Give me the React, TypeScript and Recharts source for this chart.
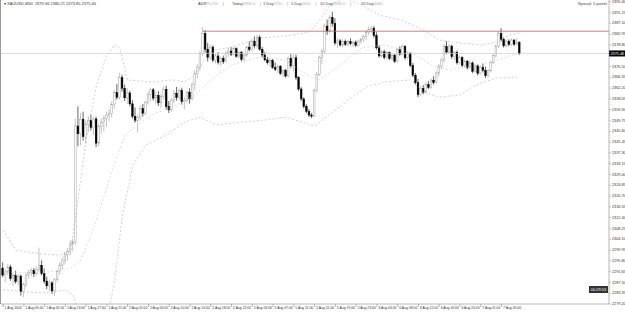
import { Bar, ComposedChart, Line, ReferenceLine, XAxis, YAxis } from 'recharts';

// XAUUSD M30 candles: [open, high, low, close]
const candles: [number, number, number, number][] = [
  [2293.0, 2295.2, 2289.5, 2290.3], [2290.3, 2292.4, 2287.6, 2291.5], [2291.5, 2294.6, 2290.2, 2293.4], [2293.4, 2294.3, 2288.1, 2289.0],
  [2289.0, 2291.3, 2286.2, 2290.1], [2290.1, 2292.0, 2287.0, 2287.8], [2287.8, 2290.8, 2286.4, 2289.9], [2289.9, 2290.6, 2282.4, 2283.9],
  [2283.9, 2287.5, 2281.8, 2286.6], [2286.6, 2291.2, 2285.7, 2290.4], [2290.4, 2292.3, 2288.9, 2291.2], [2291.2, 2293.1, 2289.8, 2292.0],
  [2292.0, 2293.0, 2289.6, 2290.8], [2290.8, 2293.4, 2290.0, 2292.5], [2292.5, 2300.8, 2291.6, 2294.1], [2294.1, 2296.0, 2290.2, 2290.9],
  [2290.9, 2292.8, 2287.1, 2288.0], [2288.0, 2289.7, 2284.9, 2286.2], [2286.2, 2288.4, 2284.1, 2287.3], [2287.3, 2288.0, 2283.0, 2284.2],
  [2284.2, 2289.2, 2282.3, 2288.5], [2288.5, 2292.4, 2287.4, 2291.6], [2291.6, 2295.3, 2290.5, 2294.2], [2294.2, 2297.1, 2292.6, 2295.8],
  [2295.8, 2299.2, 2294.3, 2298.1], [2298.1, 2300.7, 2296.0, 2299.4], [2299.4, 2303.6, 2297.9, 2302.3], [2302.3, 2304.2, 2299.5, 2303.0],
  [2303.0, 2350.5, 2301.8, 2347.6], [2347.6, 2355.2, 2339.8, 2344.6], [2344.6, 2352.6, 2340.3, 2350.2], [2350.2, 2353.1, 2342.0, 2343.5],
  [2343.5, 2349.6, 2340.8, 2348.3], [2348.3, 2351.4, 2345.2, 2349.6], [2349.6, 2352.0, 2345.8, 2347.0], [2347.0, 2351.0, 2344.1, 2350.3],
  [2350.3, 2351.2, 2339.5, 2341.0], [2341.0, 2348.4, 2339.7, 2347.5], [2347.5, 2350.4, 2344.6, 2348.9], [2348.9, 2351.6, 2345.5, 2350.5],
  [2350.5, 2353.2, 2347.2, 2351.8], [2351.8, 2354.1, 2349.3, 2352.4], [2352.4, 2357.0, 2350.8, 2355.9], [2355.9, 2361.3, 2354.2, 2360.4],
  [2360.4, 2363.8, 2357.7, 2358.6], [2358.6, 2368.0, 2357.9, 2366.2], [2366.2, 2367.3, 2360.8, 2362.1], [2362.1, 2363.5, 2357.2, 2358.4],
  [2358.4, 2362.2, 2356.0, 2360.3], [2360.3, 2361.1, 2355.2, 2356.1], [2356.1, 2357.5, 2350.4, 2351.3], [2351.3, 2354.7, 2348.8, 2349.8],
  [2349.8, 2352.0, 2345.3, 2350.9], [2350.9, 2355.5, 2349.6, 2354.3], [2354.3, 2356.1, 2351.2, 2352.5], [2352.5, 2357.4, 2351.7, 2356.6],
  [2356.6, 2360.9, 2355.8, 2359.7], [2359.7, 2362.4, 2357.1, 2361.5], [2361.5, 2362.2, 2357.4, 2358.3], [2358.3, 2360.7, 2355.9, 2359.4],
  [2359.4, 2361.0, 2355.3, 2356.5], [2356.5, 2359.8, 2354.6, 2358.9], [2358.9, 2362.8, 2357.8, 2361.7], [2361.7, 2363.1, 2353.9, 2355.0],
  [2355.0, 2357.2, 2352.6, 2353.8], [2353.8, 2358.3, 2353.0, 2357.6], [2357.6, 2361.4, 2356.4, 2360.2], [2360.2, 2362.6, 2357.3, 2358.5],
  [2358.5, 2362.0, 2357.6, 2361.3], [2361.3, 2362.3, 2355.8, 2356.9], [2356.9, 2358.6, 2353.9, 2357.5], [2357.5, 2361.1, 2356.5, 2360.6],
  [2360.6, 2362.1, 2356.2, 2358.0], [2358.0, 2364.4, 2357.3, 2363.6], [2363.6, 2369.0, 2361.5, 2367.8], [2367.8, 2371.3, 2366.0, 2370.2],
  [2370.2, 2376.5, 2368.8, 2375.4], [2375.4, 2385.6, 2374.6, 2383.2], [2383.2, 2384.4, 2375.8, 2377.1], [2377.1, 2379.5, 2372.4, 2374.0],
  [2374.0, 2378.8, 2373.1, 2377.9], [2377.9, 2378.6, 2372.0, 2372.9], [2372.9, 2375.3, 2371.6, 2374.5], [2374.5, 2376.0, 2371.2, 2372.1],
  [2372.1, 2374.2, 2370.6, 2373.6], [2373.6, 2374.6, 2371.4, 2372.3], [2372.3, 2376.3, 2371.9, 2375.7], [2375.7, 2377.6, 2374.2, 2376.4],
  [2376.4, 2377.9, 2374.5, 2375.1], [2375.1, 2378.1, 2374.6, 2377.3], [2377.3, 2377.8, 2373.8, 2374.4], [2374.4, 2376.2, 2373.6, 2375.9],
  [2375.9, 2376.4, 2372.5, 2373.2], [2373.2, 2375.4, 2372.3, 2374.8], [2374.8, 2378.5, 2374.1, 2377.9], [2377.9, 2380.1, 2376.2, 2376.9],
  [2376.9, 2381.0, 2376.4, 2380.2], [2380.2, 2382.0, 2377.4, 2378.4], [2378.4, 2382.6, 2377.3, 2381.6], [2381.6, 2382.5, 2376.5, 2377.0],
  [2377.0, 2378.0, 2374.0, 2374.9], [2374.9, 2376.1, 2372.4, 2373.0], [2373.0, 2374.1, 2371.2, 2371.9], [2371.9, 2373.6, 2370.2, 2372.8],
  [2372.8, 2373.3, 2369.5, 2370.1], [2370.1, 2372.0, 2368.7, 2369.4], [2369.4, 2371.2, 2367.9, 2370.5], [2370.5, 2371.0, 2367.2, 2367.8],
  [2367.8, 2369.4, 2366.4, 2368.9], [2368.9, 2369.6, 2366.1, 2366.8], [2366.8, 2374.3, 2366.2, 2373.6], [2373.6, 2375.2, 2369.8, 2370.7],
  [2370.7, 2375.0, 2368.6, 2373.8], [2373.8, 2375.0, 2365.3, 2366.2], [2366.2, 2366.8, 2361.0, 2361.8], [2361.8, 2362.5, 2357.2, 2358.0],
  [2358.0, 2358.6, 2354.3, 2355.1], [2355.1, 2356.0, 2352.4, 2353.2], [2353.2, 2354.1, 2351.0, 2351.8], [2351.8, 2352.6, 2350.6, 2351.4],
  [2351.4, 2362.0, 2350.9, 2361.2], [2361.2, 2368.3, 2360.4, 2367.5], [2367.5, 2374.6, 2366.8, 2373.9], [2373.9, 2377.2, 2371.5, 2376.3],
  [2376.3, 2386.8, 2375.6, 2386.0], [2386.0, 2388.5, 2382.6, 2384.1], [2384.1, 2390.2, 2383.2, 2389.3], [2389.3, 2391.4, 2385.8, 2387.0],
  [2387.0, 2389.0, 2378.6, 2379.5], [2379.5, 2381.4, 2377.6, 2380.3], [2380.3, 2381.0, 2378.1, 2378.7], [2378.7, 2380.9, 2377.8, 2380.1],
  [2380.1, 2380.8, 2378.3, 2379.0], [2379.0, 2380.6, 2378.2, 2380.0], [2380.0, 2381.3, 2378.6, 2379.2], [2379.2, 2380.4, 2377.9, 2379.8],
  [2379.8, 2380.5, 2378.0, 2378.6], [2378.6, 2380.7, 2378.1, 2380.2], [2380.2, 2381.4, 2379.2, 2381.0], [2381.0, 2382.5, 2379.8, 2381.9],
  [2381.9, 2384.3, 2380.7, 2383.6], [2383.6, 2385.8, 2382.4, 2384.6], [2384.6, 2385.9, 2383.2, 2385.2], [2385.2, 2386.0, 2381.5, 2382.3],
  [2382.3, 2383.6, 2376.9, 2377.6], [2377.6, 2378.6, 2373.8, 2374.5], [2374.5, 2376.8, 2373.9, 2376.1], [2376.1, 2376.9, 2373.2, 2373.9],
  [2373.9, 2376.4, 2373.5, 2375.8], [2375.8, 2376.2, 2372.9, 2373.5], [2373.5, 2375.4, 2372.6, 2374.8], [2374.8, 2375.3, 2371.8, 2372.4],
  [2372.4, 2377.6, 2371.9, 2377.0], [2377.0, 2378.2, 2374.6, 2375.2], [2375.2, 2378.9, 2374.8, 2378.1], [2378.1, 2378.7, 2373.0, 2373.8],
  [2373.8, 2376.1, 2373.2, 2375.5], [2375.5, 2376.0, 2370.2, 2370.9], [2370.9, 2371.8, 2366.3, 2367.1], [2367.1, 2368.0, 2363.5, 2364.2],
  [2364.2, 2365.6, 2358.7, 2359.6], [2359.6, 2362.9, 2358.9, 2362.0], [2362.0, 2363.4, 2359.8, 2360.6], [2360.6, 2364.3, 2360.0, 2363.5],
  [2363.5, 2364.9, 2361.8, 2362.4], [2362.4, 2365.9, 2361.9, 2365.2], [2365.2, 2366.7, 2363.5, 2364.3], [2364.3, 2368.6, 2363.9, 2367.9],
  [2367.9, 2371.4, 2366.6, 2370.6], [2370.6, 2373.8, 2369.4, 2372.9], [2372.9, 2378.9, 2372.0, 2378.1], [2378.1, 2380.2, 2375.1, 2376.0],
  [2376.0, 2379.0, 2375.4, 2378.3], [2378.3, 2378.8, 2373.4, 2374.2], [2374.2, 2376.5, 2373.0, 2375.9], [2375.9, 2376.6, 2371.2, 2371.9],
  [2371.9, 2374.8, 2371.1, 2373.9], [2373.9, 2374.4, 2370.3, 2370.9], [2370.9, 2373.1, 2369.9, 2372.5], [2372.5, 2373.0, 2369.3, 2370.0],
  [2370.0, 2372.6, 2369.5, 2371.8], [2371.8, 2372.4, 2367.9, 2368.6], [2368.6, 2371.3, 2368.1, 2370.7], [2370.7, 2371.2, 2367.0, 2367.8],
  [2367.8, 2370.9, 2367.3, 2370.2], [2370.2, 2371.6, 2368.2, 2369.0], [2369.0, 2370.4, 2366.0, 2366.9], [2366.9, 2369.5, 2366.2, 2368.8],
  [2368.8, 2372.7, 2368.2, 2372.1], [2372.1, 2375.1, 2371.4, 2374.6], [2374.6, 2379.0, 2373.9, 2378.3], [2378.3, 2384.0, 2377.6, 2383.1],
  [2383.1, 2385.2, 2380.0, 2380.9], [2380.9, 2381.7, 2377.7, 2378.4], [2378.4, 2380.8, 2377.9, 2380.2], [2380.2, 2380.9, 2378.2, 2378.9],
  [2378.9, 2381.2, 2378.5, 2380.6], [2380.6, 2381.0, 2378.4, 2379.0], [2379.0, 2381.3, 2378.6, 2379.7], [2379.66, 2380.21, 2374.85, 2375.46]
];

// bollinger bands: [candle index, price]
const upperBand: [number, number][] = [
  [0, 2307.6], [5, 2299.9], [15, 2298.4], [22, 2298.0], [26, 2299.9], [28, 2313.4], [32, 2342.2], [36, 2363.3], [40, 2374.9],
  [43, 2378.7], [45, 2377.6], [47, 2369.1], [48, 2365.3], [57, 2364.5], [65, 2365.3], [70, 2364.5], [74, 2367.2], [78, 2373.7],
  [82, 2376.8], [88, 2377.9], [99, 2381.4], [111, 2382.5], [118, 2383.7], [122, 2388.3], [126, 2394.1], [132, 2396.8], [138, 2394.1],
  [145, 2390.2], [153, 2388.3], [162, 2384.5], [168, 2380.6], [176, 2379.5], [184, 2378.7], [190, 2379.9], [195, 2382.5], [199, 2383.3]
];
const middleBand: [number, number][] = [
  [0, 2291.5], [15, 2291.1], [26, 2293.0], [30, 2296.1], [36, 2311.5], [42, 2330.7], [47, 2344.1], [57, 2351.8], [67, 2355.6],
  [74, 2359.5], [80, 2365.3], [88, 2371.0], [99, 2374.1], [109, 2372.9], [117, 2367.2], [122, 2365.3], [130, 2371.0], [138, 2377.6],
  [147, 2378.7], [157, 2376.0], [165, 2371.0], [172, 2369.1], [180, 2370.6], [188, 2372.2], [195, 2374.5], [199, 2375.6]
];
const lowerBand: [number, number][] = [
  [0, 2284.6], [15, 2283.4], [24, 2284.6], [27, 2282.6], [30, 2273.0], [36, 2263.4], [40, 2273.0], [43, 2288.4], [46, 2313.4],
  [50, 2332.6], [55, 2340.3], [63, 2344.1], [70, 2349.1], [76, 2351.0], [82, 2348.0], [92, 2349.1], [101, 2349.9], [109, 2351.0],
  [115, 2349.1], [120, 2347.6], [128, 2353.7], [134, 2358.3], [140, 2362.6], [147, 2364.5], [157, 2365.3], [162, 2360.6],
  [168, 2358.7], [176, 2359.5], [182, 2363.3], [190, 2366.0], [199, 2366.4]
];

const xLabels: [number, string][] = [
  [0, '1 Aug 2024'], [8, '1 Aug 05:00'], [16, '1 Aug 09:00'], [24, '1 Aug 13:00'], [32, '1 Aug 17:00'], [40, '1 Aug 21:00'],
  [48, '2 Aug 02:00'], [56, '2 Aug 06:00'], [64, '2 Aug 10:00'], [72, '2 Aug 14:00'], [80, '2 Aug 18:00'], [88, '2 Aug 22:00'],
  [96, '5 Aug 03:00'], [104, '5 Aug 07:00'], [112, '5 Aug 11:00'], [120, '5 Aug 15:00'], [128, '5 Aug 19:00'], [136, '5 Aug 23:00'],
  [144, '6 Aug 04:00'], [152, '6 Aug 08:00'], [160, '6 Aug 12:00'], [168, '6 Aug 16:00'], [176, '6 Aug 20:00'], [184, '7 Aug 01:00'],
  [192, '7 Aug 05:00']
];

// the 2374.65 level sits under the price box, so it is not labelled
const yTicks = [
  2279.2, 2283.35, 2287.5, 2291.65, 2295.8, 2299.95, 2304.1, 2308.25, 2312.4, 2316.55, 2320.7, 2324.85, 2329.0, 2333.15, 2337.3,
  2341.45, 2345.6, 2349.75, 2353.9, 2358.05, 2362.2, 2366.35, 2370.5, 2378.8, 2382.95, 2387.1, 2391.25, 2395.4
];

const currentPrice = 2375.46;
const resistance = 2384.0;
const resistanceFrom = 77;

const headerStats: [string, string][] = [
  ['ADR', '91.2%'], ['Today', '5903.0'], ['1 Day', '3711'], ['5 Day', '4414'], ['10 Day', '4563.0'], ['20 Day', '4400']
];
const headerStatLeft = [198, 232, 263, 291, 320, 361];

const font = "'Liberation Sans', Arial, sans-serif";

const upperMap = new Map(upperBand);
const middleMap = new Map(middleBand);
const lowerMap = new Map(lowerBand);
const xLabelMap = new Map(xLabels);

const rows = candles.map(([o, h, l, c], i) => ({
  i,
  o,
  h,
  l,
  c,
  upper: upperMap.get(i),
  middle: middleMap.get(i),
  lower: lowerMap.get(i)
}));

function Candle(props: any) {
  const { x, y, width, height, payload } = props;
  if (!payload || height == null || Number.isNaN(y)) return null;
  const { o, h, l, c } = payload;
  const span = h - l || 1;
  const toY = (v: number) => y + ((h - v) / span) * height;
  const up = c >= o;
  const cx = x + width / 2;
  const top = toY(Math.max(o, c));
  const bottom = toY(Math.min(o, c));
  const color = up ? '#9a9a9a' : '#000';
  return (
    <g>
      <line x1={cx} x2={cx} y1={y} y2={y + height} stroke={color} strokeWidth={0.6} />
      <rect x={x} y={top} width={width} height={Math.max(bottom - top, 0.5)} fill={up ? '#fff' : '#000'} stroke={color} strokeWidth={0.45} />
    </g>
  );
}

function XTick({ x, y, payload }: any) {
  const label = xLabelMap.get(payload.value) ?? '';
  return (
    <g>
      <line x1={x} x2={x} y1={y - 8} y2={y - 5} stroke="#777" strokeWidth={0.5} />
      <text x={x + 1.5} y={y - 2.8} fontSize={3.4} fill="#333" fontFamily={font}>
        {label}
      </text>
    </g>
  );
}

function YTick({ x, y, payload }: any) {
  return (
    <text x={x} y={y} dy={1.3} fontSize={3.8} fill="#333" fontFamily={font}>
      {payload.value.toFixed(2)}
    </text>
  );
}

function PriceBox({ viewBox }: any) {
  if (!viewBox) return null;
  const bx = viewBox.x + viewBox.width;
  return (
    <g>
      <rect x={bx} y={viewBox.y - 3} width={16} height={6} fill="#000" />
      <text x={bx + 1.5} y={viewBox.y + 1.3} fontSize={3.8} fill="#fff" fontFamily={font}>
        {currentPrice.toFixed(2)}
      </text>
    </g>
  );
}

export default function App() {
  return (
    <div style={{ position: 'absolute', left: 0, top: 0, width: 625, height: 312, background: '#fff', fontFamily: font }}>
      <ComposedChart width={625} height={312} data={rows} margin={{ top: 0, right: 0, bottom: 0, left: 1 }}>
        <XAxis
          dataKey="i"
          type="number"
          domain={[-0.8, 233.4]}
          allowDataOverflow
          ticks={xLabels.map(([i]) => i)}
          interval={0}
          height={8}
          tickLine={false}
          axisLine={{ stroke: '#888', strokeWidth: 0.6 }}
          tick={<XTick />}
        />
        <YAxis
          orientation="right"
          type="number"
          domain={[2279.2, 2396.0]}
          allowDataOverflow
          ticks={yTicks}
          interval={0}
          width={16}
          tickSize={2}
          tickMargin={1}
          tickLine={{ stroke: '#888', strokeWidth: 0.5 }}
          axisLine={{ stroke: '#888', strokeWidth: 0.6 }}
          tick={<YTick />}
        />
        <ReferenceLine y={currentPrice} stroke="#cdcdcd" strokeWidth={0.7} label={<PriceBox />} />
        <ReferenceLine
          segment={[
            { x: resistanceFrom, y: resistance },
            { x: 233.4, y: resistance }
          ]}
          stroke="#e05555"
          strokeWidth={0.8}
        />
        <Line dataKey="upper" connectNulls dot={false} stroke="#b0b0b0" strokeWidth={0.6} strokeDasharray="2 2" isAnimationActive={false} />
        <Line dataKey="middle" connectNulls dot={false} stroke="#c4c4c4" strokeWidth={0.6} strokeDasharray="2 2" isAnimationActive={false} />
        <Line dataKey="lower" connectNulls dot={false} stroke="#b0b0b0" strokeWidth={0.6} strokeDasharray="2 2" isAnimationActive={false} />
        <Bar dataKey={(d: any) => [d.l, d.h]} barSize={1.7} shape={<Candle />} isAnimationActive={false} />
      </ComposedChart>

      <div style={{ position: 'absolute', left: 0, top: 0, width: 1, height: 304, background: '#999' }} />
      <div style={{ position: 'absolute', left: 4, top: 1, fontSize: 4, color: '#333', whiteSpace: 'nowrap' }}>
        ▾ XAUUSD,M30&nbsp; 2379.66 2380.21 2374.85 2375.46
      </div>
      {headerStats.map(([name, value], k) => (
        <div key={name} style={{ position: 'absolute', left: headerStatLeft[k], top: 1, fontSize: 4, whiteSpace: 'nowrap', color: '#444' }}>
          {name}
          <span style={{ color: '#aaa' }}>{value}</span>
          {k < headerStats.length - 1 ? <span style={{ color: '#888', marginLeft: 5 }}>|</span> : null}
        </div>
      ))}
      <div style={{ position: 'absolute', right: 18, top: 1, fontSize: 4, color: '#444', whiteSpace: 'nowrap' }}>Spread: 1 points</div>
      <div
        style={{
          position: 'absolute',
          left: 589,
          top: 286,
          width: 19,
          height: 7,
          background: '#333',
          color: '#fff',
          fontSize: 4,
          lineHeight: '7px',
          textAlign: 'center'
        }}
      >
        00:29:53
      </div>
    </div>
  );
}
